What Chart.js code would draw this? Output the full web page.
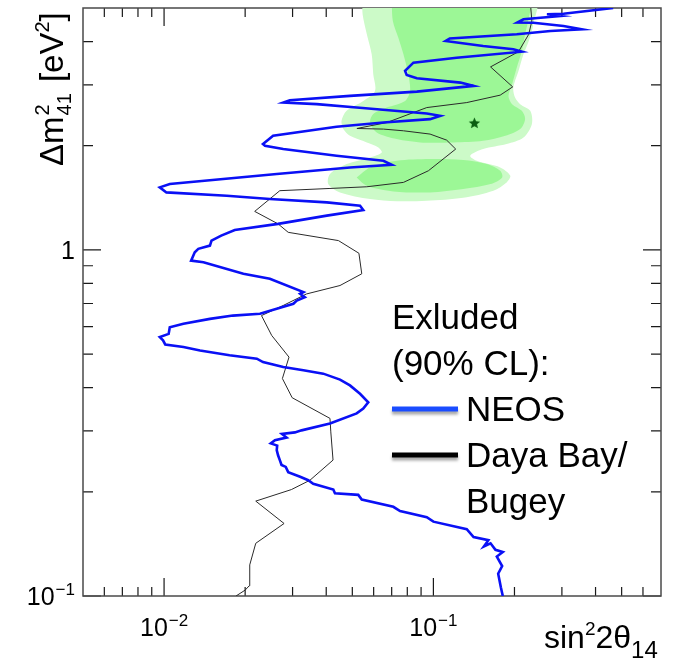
<!DOCTYPE html>
<html>
<head>
<meta charset="utf-8">
<script src="https://cdn.jsdelivr.net/npm/chart.js@4.4.0/dist/chart.umd.min.js"></script>
<style>
  html, body { margin: 0; padding: 0; background: #ffffff; }
  canvas { display: block; }
</style>
</head>
<body>
<canvas id="plot" width="673" height="661"></canvas>
<script>
// ---- NEOS 90% CL exclusion contour (sin^2 2theta14 vs dm^2_41 [eV^2]) ----
const neosSin2 = [0.181,0.178,0.174,0.180,0.172,0.181,0.170,0.163,0.154,0.160,
  0.141,0.133,0.100,0.0945,0.0752,0.0710,0.0542,0.0526,0.0431,0.0425,
  0.0358,0.0343,0.0320,0.0289,0.0283,0.0273,0.0269,0.0265,0.0262,0.0263,
  0.0249,0.0258,0.0285,0.0274,0.0306,0.0324,0.0413,0.0519,0.0549,0.0573,
  0.0534,0.0490,0.0450,0.0390,0.0329,0.0277,0.0233,0.0221,0.0175,0.0136,
  0.0118,0.0101,0.00991,0.00964,0.0104,0.0105,0.0118,0.0148,0.0180,0.0227,
  0.0262,0.0302,0.0311,0.0333,0.0320,0.0329,0.0247,0.0197,0.0140,0.0126,
  0.0130,0.0134,0.0148,0.0150,0.0163,0.0183,0.0265,0.0402,0.0549,0.0534,
  0.0402,0.0247,0.0171,0.0102,0.00964,0.0105,0.0262,0.0490,0.0700,0.0652,
  0.0437,0.0277,0.0237,0.0233,0.0254,0.0437,0.0652,0.0972,0.106,0.0945,
  0.0519,0.0369,0.0277,0.0293,0.0490,0.0868,0.141,0.126,0.0868,0.0796,
  0.0785,0.0843,0.122,0.213,0.198,0.153,0.111,0.115,0.204,0.272,
  0.356,0.304,0.235,0.205,0.216,0.296,0.264,0.304,0.465];
const neosDm2 = [0.100,0.106,0.116,0.122,0.130,0.134,0.136,0.142,0.139,0.145,
  0.148,0.156,0.164,0.169,0.176,0.181,0.190,0.196,0.198,0.203,
  0.211,0.216,0.221,0.228,0.236,0.239,0.247,0.255,0.264,0.272,
  0.276,0.282,0.287,0.294,0.297,0.301,0.315,0.337,0.348,0.363,
  0.384,0.406,0.422,0.439,0.449,0.459,0.474,0.485,0.496,0.512,
  0.524,0.533,0.548,0.560,0.572,0.598,0.612,0.632,0.646,0.654,
  0.676,0.699,0.714,0.730,0.747,0.755,0.825,0.853,0.921,0.931,
  0.984,1.007,1.029,1.064,1.100,1.142,1.189,1.256,1.304,1.342,
  1.372,1.403,1.434,1.466,1.516,1.550,1.657,1.731,1.762,1.809,
  1.871,1.956,2.000,2.022,2.136,2.268,2.333,2.387,2.440,2.477,
  2.578,2.637,2.665,2.708,2.786,2.867,2.978,3.044,3.134,3.203,
  3.290,3.476,3.593,3.739,3.800,3.884,4.015,4.083,4.198,4.291,
  4.339,4.436,4.534,4.539,4.637,4.740,4.794,4.813,5.000];

// ---- Daya Bay / Bugey combined 90% CL exclusion contour ----
const dybSin2 = [0.0185,0.0200,0.0207,0.0208,0.0219,0.0279,0.0219,0.0297,0.0348,0.0424,
  0.0416,0.0413,0.0299,0.0275,0.0291,0.0251,0.0230,0.0277,0.0338,0.0450,
  0.0542,0.0529,0.0444,0.0289,0.0265,0.0217,0.0269,0.0413,0.0566,0.0774,
  0.0958,0.121,0.112,0.0972,0.0774,0.0652,0.0520,0.0671,0.0945,0.133,
  0.177,0.197,0.163,0.207,0.226,0.232,0.230];
const dybDm2 = [0.100,0.104,0.107,0.123,0.142,0.162,0.188,0.203,0.216,0.247,
  0.298,0.326,0.374,0.425,0.490,0.566,0.646,0.691,0.746,0.789,
  0.853,0.978,1.064,1.124,1.189,1.292,1.483,1.505,1.522,1.567,
  1.693,1.956,2.076,2.161,2.209,2.234,2.243,2.333,2.578,2.665,
  2.800,2.958,3.379,3.739,4.198,4.585,5.000];

// ---- allowed regions (outer and inner contours) ----
const outerSin2 = [0.0545,0.0546,0.0566,0.0590,0.0598,0.0607,0.0549,0.0476,0.0456,0.0463,
  0.0490,0.0566,0.0625,0.0643,0.0582,0.0476,0.0413,0.0407,0.0450,0.0582,
  0.0731,0.0945,0.129,0.167,0.187,0.193,0.177,0.145,0.137,0.153,
  0.187,0.216,0.232,0.229,0.210,0.201,0.198,0.207,0.216,0.226,
  0.235,0.239];
const outerDm2 = [5.3,4.794,4.198,3.675,3.219,2.880,2.695,2.522,2.360,2.234,
  2.136,2.044,1.977,1.912,1.850,1.770,1.657,1.550,1.466,1.403,
  1.383,1.387,1.415,1.483,1.567,1.638,1.731,1.809,1.871,1.956,
  2.022,2.112,2.309,2.522,2.637,2.755,2.944,3.290,3.675,4.015,
  4.486,5.3];
const innerUpperSin2 = [0.0700,0.0707,0.0741,0.0774,0.0807,0.0819,0.0785,0.0671,0.0598,0.0582,
  0.0616,0.0731,0.0893,0.119,0.153,0.185,0.210,0.219,0.213,0.196,
  0.190,0.196,0.204,0.213,0.219,0.226,0.229];
const innerUpperDm2 = [5.3,4.585,4.104,3.675,3.219,2.880,2.695,2.578,2.468,2.333,
  2.184,2.090,2.044,2.044,2.066,2.136,2.234,2.387,2.522,2.637,
  2.786,3.012,3.363,3.756,4.198,4.687,5.3];
const innerLowerSin2 = [0.0519,0.0582,0.0731,0.0972,0.129,0.158,0.177,0.180,0.163,0.129,
  0.0972,0.0710,0.0566];
const innerLowerDm2 = [1.620,1.731,1.809,1.830,1.818,1.770,1.693,1.620,1.550,1.499,
  1.466,1.476,1.532];

// best-fit point
const bestFitSin2 = [0.142];
const bestFitDm2 = [2.32];

// axis ranges and tick positions
const xRange = [0.005, 0.7];
const yRange = [0.1, 5];
const xMajorTicks = [0.01, 0.1];
const xMinorTicks = [0.006,0.007,0.008,0.009,0.02,0.03,0.04,0.05,0.06,0.07,0.08,0.09,0.2,0.3,0.4,0.5,0.6];
const yMajorTicks = [0.1, 1];
const yMinorTicks = [0.2,0.3,0.4,0.5,0.6,0.7,0.8,0.9,2,3,4];
const xTickLabels = [{v: 0.01, base: '10', exp: '\u22122'}, {v: 0.1, base: '10', exp: '\u22121'}];
const yTickLabels = [{v: 1, base: '1', exp: ''}, {v: 0.1, base: '10', exp: '\u22121'}];

const legendTitle = ['Exluded', '(90% CL):'];
const legendEntries = [
  {lines: ['NEOS'], color: '#1a4cff'},
  {lines: ['Daya Bay/', 'Bugey'], color: '#000000'}
];

const FONT = '"Liberation Sans", Arial, Helvetica, sans-serif';

function zipPoints(xs, ys) {
  return xs.map((v, i) => ({x: v, y: ys[i]}));
}
function closed(xs, ys) {
  const p = zipPoints(xs, ys);
  p.push({x: xs[0], y: ys[0]});
  return p;
}

// filled five-pointed star for the best-fit marker
function makeStar(size, color) {
  const c = document.createElement('canvas');
  c.width = size; c.height = size;
  const g = c.getContext('2d');
  const cx = size / 2, cy = size / 2, R = size / 2 - 0.5, r = R * 0.45;
  g.beginPath();
  for (let i = 0; i < 10; i++) {
    const rad = i % 2 === 0 ? R : r;
    const a = -Math.PI / 2 + i * Math.PI / 5;
    const px = cx + rad * Math.cos(a), py = cy + rad * Math.sin(a);
    if (i === 0) g.moveTo(px, py); else g.lineTo(px, py);
  }
  g.closePath();
  g.fillStyle = color;
  g.fill();
  return c;
}

// frame and inward tick marks, drawn before the datasets
const frameTicks = {
  id: 'frameTicks',
  beforeDatasetsDraw(chart) {
    const {ctx, chartArea: a, scales: {x, y}} = chart;
    ctx.save();
    ctx.strokeStyle = '#1a1a1a';
    ctx.lineWidth = 1.2;
    const tickX = (list, len) => {
      list.forEach(v => {
        const px = x.getPixelForValue(v);
        ctx.beginPath();
        ctx.moveTo(px, a.bottom); ctx.lineTo(px, a.bottom - len);
        ctx.moveTo(px, a.top); ctx.lineTo(px, a.top + len);
        ctx.stroke();
      });
    };
    const tickY = (list, len) => {
      list.forEach(v => {
        const py = y.getPixelForValue(v);
        ctx.beginPath();
        ctx.moveTo(a.left, py); ctx.lineTo(a.left + len, py);
        ctx.moveTo(a.right, py); ctx.lineTo(a.right - len, py);
        ctx.stroke();
      });
    };
    tickX(xMajorTicks, 18); tickX(xMinorTicks, 9);
    tickY(yMajorTicks, 18); tickY(yMinorTicks, 10);
    ctx.strokeStyle = '#4a4a4a';
    ctx.lineWidth = 1.5;
    ctx.strokeRect(a.left, a.top, a.right - a.left, a.bottom - a.top);
    ctx.restore();
  }
};

function drawPower(ctx, base, exp, x, y, align, size) {
  const supSize = Math.round(size * 0.68);
  ctx.font = size + 'px ' + FONT;
  const wb = ctx.measureText(base).width;
  ctx.font = supSize + 'px ' + FONT;
  const we = exp ? ctx.measureText(exp).width + 1 : 0;
  const total = wb + we;
  let x0 = x;
  if (align === 'center') x0 = x - total / 2;
  else if (align === 'right') x0 = x - total;
  ctx.textAlign = 'left';
  ctx.textBaseline = 'alphabetic';
  ctx.font = size + 'px ' + FONT;
  ctx.fillText(base, x0, y);
  if (exp) {
    ctx.font = supSize + 'px ' + FONT;
    ctx.fillText(exp, x0 + wb + 1, y - size * 0.42);
  }
}

// tick labels, axis titles and legend
const labels = {
  id: 'labels',
  afterDraw(chart) {
    const {ctx, chartArea: a, scales: {x, y}} = chart;
    ctx.save();
    ctx.fillStyle = '#000';
    xTickLabels.forEach(t => {
      drawPower(ctx, t.base, t.exp, x.getPixelForValue(t.v), a.bottom + 40, 'center', 25);
    });
    yTickLabels.forEach(t => {
      drawPower(ctx, t.base, t.exp, a.left - 8, y.getPixelForValue(t.v) + 9, 'right', 25);
    });

    // x-axis title: sin^2 2theta_14
    ctx.textAlign = 'left';
    ctx.textBaseline = 'alphabetic';
    let xt = 544;
    const by = 648;
    ctx.font = '32px ' + FONT;
    ctx.fillText('sin', xt, by); xt += ctx.measureText('sin').width;
    ctx.font = '19px ' + FONT;
    ctx.fillText('2', xt, by - 13); xt += ctx.measureText('2').width;
    ctx.font = '32px ' + FONT;
    ctx.fillText('2\u03b8', xt, by); xt += ctx.measureText('2\u03b8').width;
    ctx.font = '24px ' + FONT;
    ctx.fillText('14', xt, by + 10);

    // y-axis title: dm^2_41 [eV^2], rotated
    ctx.save();
    ctx.translate(63, 166);
    ctx.rotate(-Math.PI / 2);
    let yt = 0;
    ctx.font = '33px ' + FONT;
    ctx.fillText('\u0394m', yt, 0); yt += ctx.measureText('\u0394m').width + 1;
    ctx.font = '20px ' + FONT;
    ctx.fillText('2', yt, -14);
    ctx.fillText('41', yt, 8);
    yt += ctx.measureText('41').width + 2;
    ctx.font = '33px ' + FONT;
    ctx.fillText(' [eV', yt, 0); yt += ctx.measureText(' [eV').width;
    ctx.font = '20px ' + FONT;
    ctx.fillText('2', yt, -14); yt += ctx.measureText('2').width;
    ctx.font = '33px ' + FONT;
    ctx.fillText(']', yt, 0);
    ctx.restore();

    // legend
    ctx.font = '35px ' + FONT;
    ctx.fillStyle = '#000';
    const lx = 392, tx = 466;
    let ly = 329;
    const step = 46;
    legendTitle.forEach(t => { ctx.fillText(t, lx, ly); ly += step; });
    legendEntries.forEach(e => {
      ctx.save();
      ctx.shadowColor = 'rgba(0,0,0,0.35)';
      ctx.shadowBlur = 3;
      ctx.shadowOffsetY = 3;
      ctx.strokeStyle = e.color;
      ctx.lineWidth = 5;
      ctx.beginPath();
      ctx.moveTo(lx, ly - 12); ctx.lineTo(lx + 66, ly - 12);
      ctx.stroke();
      ctx.restore();
      e.lines.forEach(t => { ctx.fillText(t, tx, ly); ly += step; });
    });
    ctx.restore();
  }
};

const greenOuter = 'rgb(204,250,200)';
const greenInner = 'rgb(156,247,150)';

new Chart(document.getElementById('plot').getContext('2d'), {
  type: 'scatter',
  data: {
    datasets: [
      {
        label: 'best fit',
        data: zipPoints(bestFitSin2, bestFitDm2),
        pointStyle: makeStar(13, '#0b5e12'),
        pointRadius: 7,
        showLine: false,
        order: 0
      },
      {
        label: 'NEOS',
        data: zipPoints(neosSin2, neosDm2),
        showLine: true, fill: false,
        borderColor: '#0a10f5', borderWidth: 2.6,
        pointRadius: 0, tension: 0,
        order: 1
      },
      {
        label: 'Daya Bay/Bugey',
        data: zipPoints(dybSin2, dybDm2),
        showLine: true, fill: false,
        borderColor: '#2a2a2a', borderWidth: 1,
        pointRadius: 0, tension: 0,
        order: 2
      },
      {
        label: 'inner upper',
        data: closed(innerUpperSin2, innerUpperDm2),
        showLine: true, fill: 'shape',
        backgroundColor: greenInner, borderColor: greenInner, borderWidth: 0,
        pointRadius: 0, tension: 0.3,
        order: 3
      },
      {
        label: 'inner lower',
        data: closed(innerLowerSin2, innerLowerDm2),
        showLine: true, fill: 'shape',
        backgroundColor: greenInner, borderColor: greenInner, borderWidth: 0,
        pointRadius: 0, tension: 0.3,
        order: 3
      },
      {
        label: 'outer',
        data: closed(outerSin2, outerDm2),
        showLine: true, fill: 'shape',
        backgroundColor: greenOuter, borderColor: greenOuter, borderWidth: 0,
        pointRadius: 0, tension: 0.3,
        order: 4
      }
    ]
  },
  options: {
    responsive: false,
    animation: false,
    devicePixelRatio: 1,
    layout: { padding: { left: 83, top: 7, right: 12, bottom: 65 } },
    scales: {
      x: { type: 'logarithmic', min: xRange[0], max: xRange[1], display: false },
      y: { type: 'logarithmic', min: yRange[0], max: yRange[1], display: false }
    },
    plugins: {
      legend: { display: false },
      tooltip: { enabled: false }
    }
  },
  plugins: [frameTicks, labels]
});
</script>
</body>
</html>
